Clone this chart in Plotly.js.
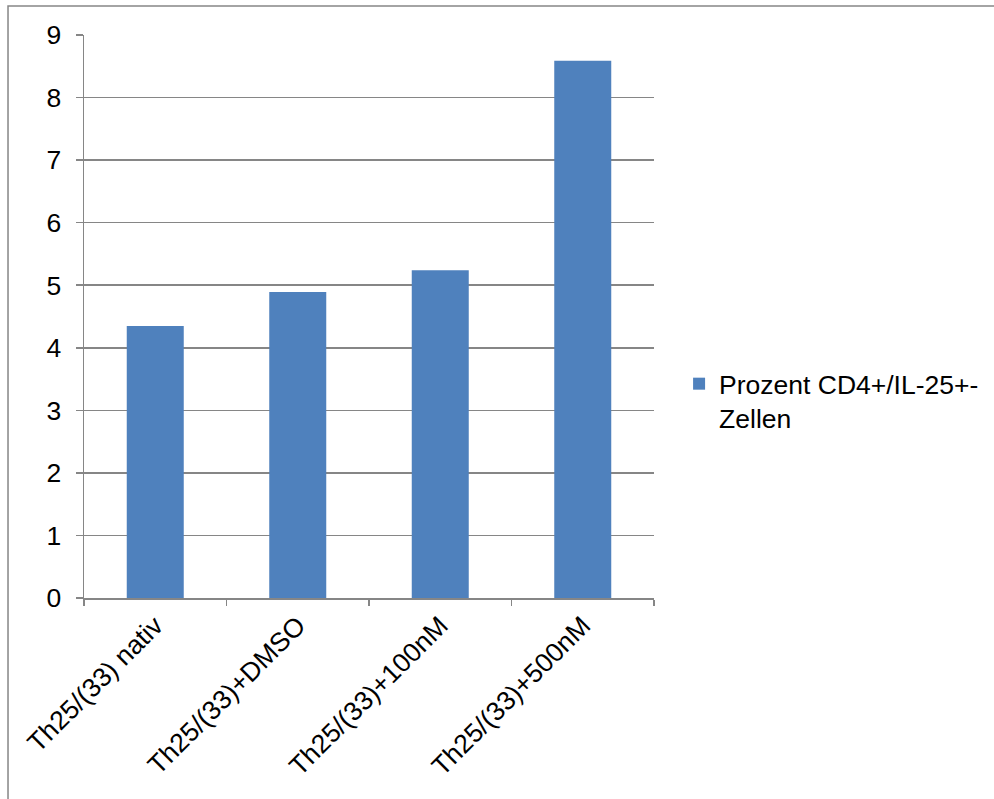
<!DOCTYPE html>
<html>
<head>
<meta charset="utf-8">
<script src="https://cdn.plot.ly/plotly-3.0.1.min.js"></script>
<style>html,body{margin:0;padding:0;background:#fff;}#chart{width:994px;height:799px;}</style>
</head>
<body>
<div id="chart"></div>
<script>
var categories = ["Th25/(33) nativ", "Th25/(33)+DMSO", "Th25/(33)+100nM", "Th25/(33)+500nM"];
var values = [4.35, 4.89, 5.24, 8.59];
var seriesName = "Prozent CD4+/IL-25+-<br>Zellen";
var yTicks = [0, 1, 2, 3, 4, 5, 6, 7, 8, 9];

var trace = {
  type: "bar",
  x: categories,
  y: values,
  name: seriesName,
  marker: {color: "#4F81BD", line: {color: "#4F81BD", width: 0}},
  showlegend: true,
  hoverinfo: "x+y"
};

var FONT = "Liberation Sans, Arial, sans-serif";

var layout = {
  width: 994,
  height: 799,
  margin: {l: 84, r: 340, t: 35, b: 201, autoexpand: false},
  paper_bgcolor: "#ffffff",
  plot_bgcolor: "#ffffff",
  font: {family: FONT, size: 26.5, color: "#000000"},
  bargap: 0.6,
  showlegend: true,
  legend: {
    x: 1.044, y: 0.35, xanchor: "left", yanchor: "middle",
    valign: "top",
    font: {family: FONT, size: 26.5, color: "#000000"},
    itemwidth: 30
  },
  xaxis: {
    type: "category",
    tickangle: -45,
    automargin: false,
    showline: true, linecolor: "#868686", linewidth: 1.5,
    ticks: "outside", tickson: "boundaries", ticklen: 6, tickcolor: "#868686", tickwidth: 1.5,
    showgrid: false,
    tickfont: {family: FONT, size: 26.5, color: "#000000"}
  },
  yaxis: {
    range: [0, 9],
    tickvals: yTicks,
    automargin: false,
    showline: true, linecolor: "#868686", linewidth: 1.5,
    ticks: "outside", ticklen: 7, tickcolor: "#868686", tickwidth: 1.5,
    showgrid: true, gridcolor: "#868686", gridwidth: 1.5,
    zeroline: false,
    tickfont: {family: FONT, size: 26.5, color: "#000000"},
    ticklabelstandoff: 9
  },
  shapes: [{
    type: "rect", xref: "paper", yref: "paper",
    x0: -0.1333, x1: 1.8, y0: -0.6, y1: 1.0515,
    line: {color: "#868686", width: 1.5}, fillcolor: "rgba(0,0,0,0)", layer: "below"
  }]
};

Plotly.newPlot("chart", [trace], layout, {displayModeBar: false, staticPlot: true});
</script>
</body>
</html>
